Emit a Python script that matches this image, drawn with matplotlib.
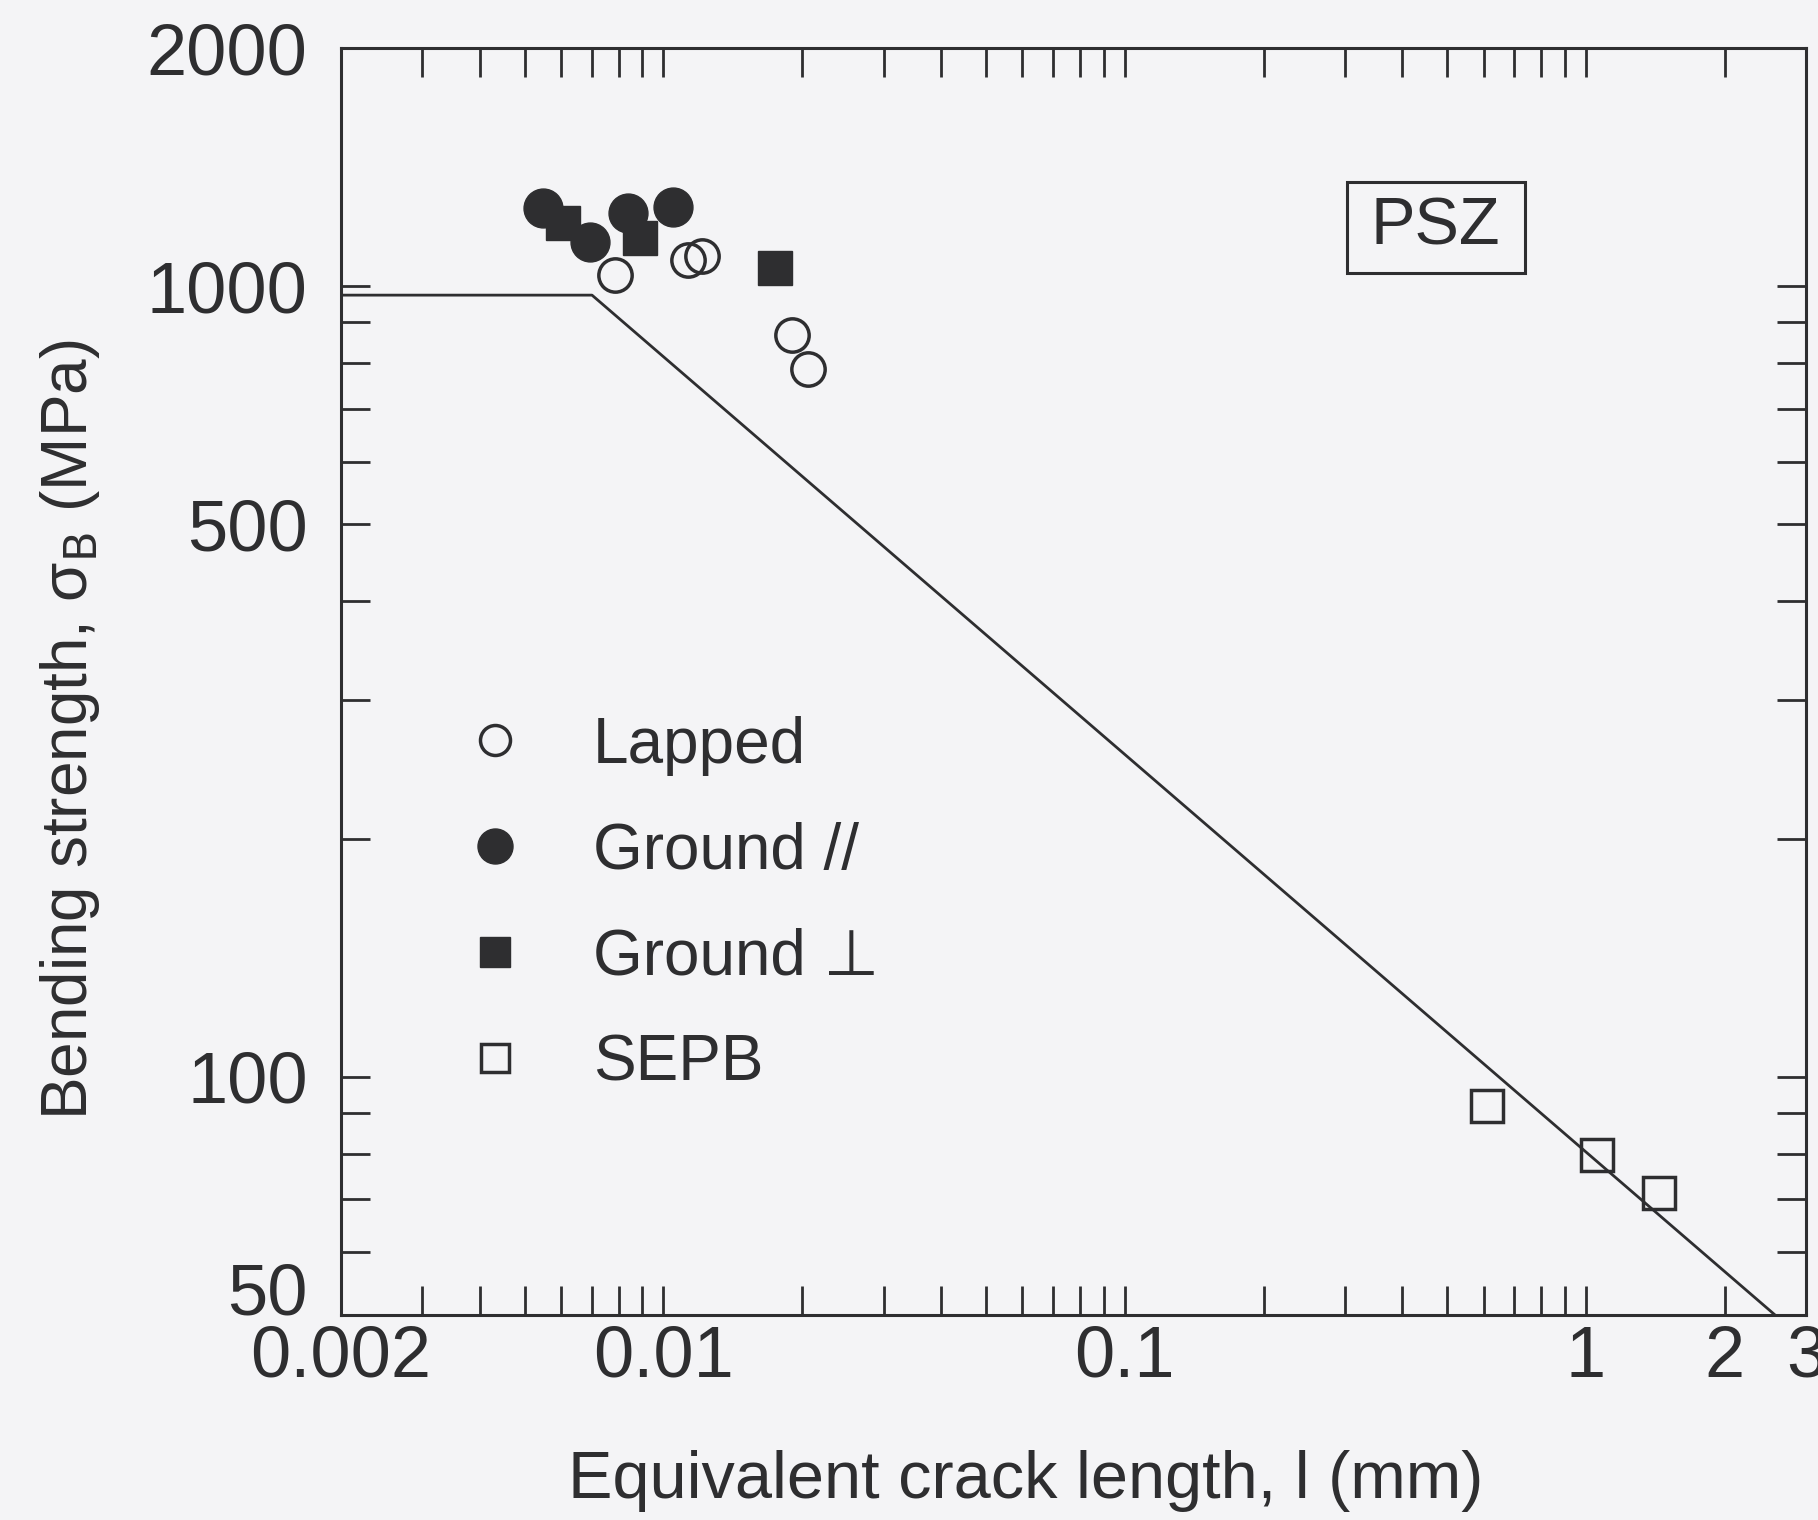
import matplotlib
matplotlib.use("Agg")
import matplotlib.pyplot as plt
from matplotlib.patches import Rectangle

# values: crack length l (mm), bending strength (MPa)
lapped_l = [0.00785, 0.0113, 0.01213, 0.0190, 0.02058]
lapped_s = [1033, 1079, 1091, 867, 785]
ground_par_l = [0.00548, 0.00693, 0.00838, 0.01049]
ground_par_s = [1255, 1137, 1237, 1259]
ground_perp_l = [0.00606, 0.0089, 0.01745]
ground_perp_s = [1201, 1150, 1054]
sepb_l = [0.609, 1.058, 1.441]
sepb_s = [91.9, 79.7, 71.4]

# plateau + slope -1/2 line
line_l = [0.002, 0.0070, 2.57]
line_s = [974, 974, 50]

xticks_major = [0.002, 0.01, 0.1, 1, 2, 3]
xtick_labels = ["0.002", "0.01", "0.1", "1", "2", "3"]
xticks_minor = [0.003, 0.004, 0.005, 0.006, 0.007, 0.008, 0.009,
                0.02, 0.03, 0.04, 0.05, 0.06, 0.07, 0.08, 0.09,
                0.2, 0.3, 0.4, 0.5, 0.6, 0.7, 0.8, 0.9]
yticks_major = [50, 100, 500, 1000, 2000]
ytick_labels = ["50", "100", "500", "1000", "2000"]
yticks_minor = [60, 70, 80, 90, 200, 300, 400, 600, 700, 800, 900]

ink = "#2e2e30"
bg = "#f4f4f6"
plt.rcParams['font.family'] = ['Liberation Sans', 'DejaVu Sans']

fig = plt.figure(figsize=(18.18, 15.2), dpi=100, facecolor=bg)
ax = fig.add_axes([0.1876, 0.1349, 0.8058, 0.8335], facecolor=bg)
ax.set_xscale('log')
ax.set_yscale('log')
ax.set_xlim(0.002, 3)
ax.set_ylim(50, 2000)

ax.plot(line_l, line_s, color=ink, lw=2.0, zorder=2)

ax.plot(ground_perp_l, ground_perp_s, 's', ms=24, color=ink, mec=ink,
        label="Ground \u22a5", zorder=3)
ax.plot(ground_par_l, ground_par_s, 'o', ms=28, color=ink, mec=ink,
        label="Ground //", zorder=4)
ax.plot(lapped_l, lapped_s, 'o', ms=24, mfc='none', mec=ink, mew=2.5,
        label="Lapped", zorder=5)
ax.plot(sepb_l, sepb_s, 's', ms=23, mfc='none', mec=ink, mew=2.5,
        label="SEPB", zorder=5)

ax.set_xticks(xticks_major)
ax.set_xticklabels(xtick_labels)
ax.set_xticks(xticks_minor, minor=True)
ax.set_xticklabels([], minor=True)
ax.set_yticks(yticks_major)
ax.set_yticklabels(ytick_labels)
ax.set_yticks(yticks_minor, minor=True)
ax.set_yticklabels([], minor=True)

ax.tick_params(which='both', direction='in', top=True, right=True,
               length=21, width=2, color=ink, labelcolor=ink, labelsize=52)
ax.tick_params(axis='x', which='both', pad=7)
ax.tick_params(axis='y', which='both', pad=24)
ax.get_yticklabels()[0].set_va('baseline')
for s in ax.spines.values():
    s.set_linewidth(2.2)
    s.set_color(ink)

ax.set_xlabel("Equivalent crack length, l (mm)", fontsize=48, color=ink)
ax.xaxis.set_label_coords(0.4676, -0.131)
ax.xaxis.label.set_va('center')
ax.set_ylabel("Bending strength, \u03c3$_\\mathrm{B}$ (MPa)", fontsize=46, color=ink)
ax.yaxis.set_label_coords(-0.185, 0.462)
ax.yaxis.label.set_va('center')

# legend in the order of the original
h, lab = ax.get_legend_handles_labels()
order = [lab.index("Lapped"), lab.index("Ground //"), lab.index("Ground \u22a5"), lab.index("SEPB")]
leg = ax.legend([h[i] for i in order], [lab[i] for i in order],
                loc='upper left', bbox_to_anchor=(0.0833, 0.473),
                frameon=False, fontsize=46, markerscale=0.9,
                handlelength=1.0, handletextpad=1.03, labelspacing=0.72,
                borderpad=0, borderaxespad=0)
for t in leg.get_texts():
    t.set_color(ink)

# PSZ label box
ax.add_patch(Rectangle((0.6864, 0.8223), 0.1215, 0.0718, transform=ax.transAxes,
                       fill=False, ec=ink, lw=2.2, zorder=6))
ax.text(0.7471, 0.8582, "PSZ", transform=ax.transAxes, ha='center', va='center',
        fontsize=48, color=ink)

fig.savefig("out.png", dpi=100, facecolor=bg)
